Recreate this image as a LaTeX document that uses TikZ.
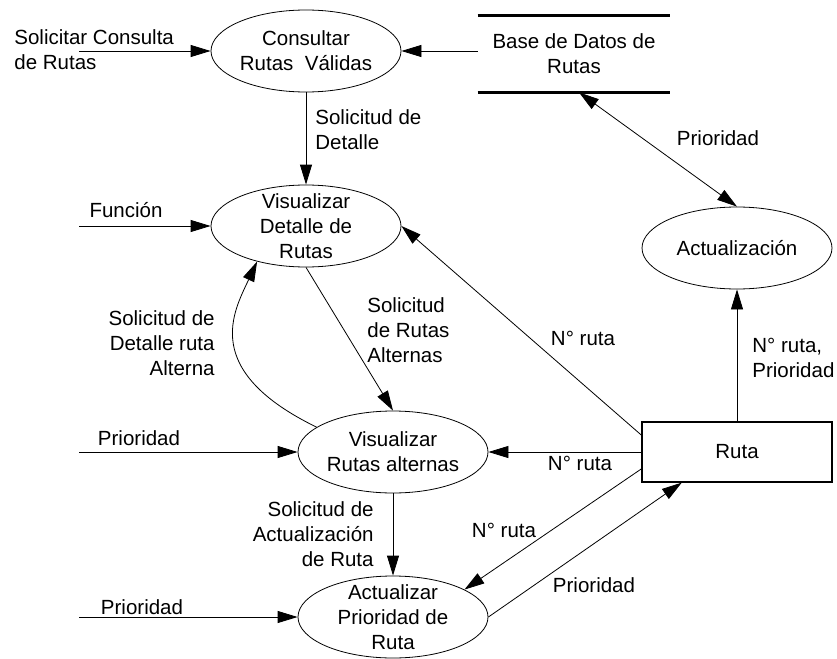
\documentclass[tikz,border=0pt]{standalone}
\usepackage{fontspec}
\setmainfont{Liberation Sans}
\usetikzlibrary{arrows.meta,shapes.geometric}

\begin{document}
\begin{tikzpicture}[x=1pt,y=1pt,->,>={Triangle[length=20pt,width=12pt]},line width=0.8pt,
                    font=\fontsize{20.5}{25}\selectfont,
                    proc/.style={ellipse,draw,minimum width=190pt,minimum height=82pt,
                                 inner sep=-10pt,align=center},
                    lbl/.style={align=left,inner sep=0pt}]

  \useasboundingbox (0,0) rectangle (837,-658);

  % procesos
  \node[proc] (consultar)     at (306,-51)  {Consultar\\Rutas~~Válidas};
  \node[proc] (detalle)       at (306,-226) {Visualizar\\Detalle de\\Rutas};
  \node[proc] (alternas)      at (393,-452) {Visualizar\\Rutas alternas};
  \node[proc] (actualizar)    at (393,-617) {Actualizar\\Prioridad de\\Ruta};
  \node[proc] (actualizacion) at (737,-248) {Actualización};

  % almacen y entidad
  \node[align=center,minimum width=192pt,minimum height=76pt,inner sep=0pt] (base) at (574,-54)
       {Base de Datos de\\Rutas};
  \draw[-,line width=3pt] (base.north west) -- (base.north east)
                          (base.south west) -- (base.south east);
  \node[draw,line width=1.2pt,minimum width=190pt,minimum height=60pt] (ruta) at (737,-452) {Ruta};

  % entradas externas
  \coordinate (srcConsulta) at (79,-51);
  \coordinate (srcFuncion)  at (79,-226);
  \coordinate (srcPrio1)    at (79,-452);
  \coordinate (srcPrio2)    at (79,-617);

  \draw (srcConsulta) -- (consultar.west);
  \draw (base.west |- consultar.east) -- (consultar.east);
  \draw (consultar) -- (detalle);
  \draw (srcFuncion) -- (detalle.west);
  \draw (detalle.south) -- (alternas.north);
  \draw (alternas.162) to[out=154,in=245,out distance=130pt,in distance=55pt] (detalle.216);
  \draw (srcPrio1) -- (alternas.west);
  \draw (alternas) -- (actualizar);
  \draw (srcPrio2) -- (actualizar.west);
  \draw (ruta.west) -- (alternas.east);
  \draw (ruta.170) -- (detalle.east);
  \draw (ruta.190) -- (actualizar.21);
  \draw (actualizar.east) -- (ruta.209);
  \draw (ruta) -- (actualizacion);
  \draw[<->] ([xshift=5pt]base.south) -- (actualizacion.north);

  % etiquetas
  \node[lbl,anchor=west] (lSolConsulta) at (14,-50) {Solicitar Consulta\\de Rutas};
  \node (lFuncion) at (126,-210) {Función};
  \node (lPrio1) at (139,-438) {Prioridad};
  \node (lPrio2) at (142,-607) {Prioridad};
  \node[lbl,anchor=west] (lSolDetalle) at (315,-130) {Solicitud de\\Detalle};
  \node (lPrioBase) at (718,-138) {Prioridad};
  \node[lbl,anchor=west] (lRutaPrio) at (752,-358) {N° ruta,\\Prioridad};
  \node (lRuta1) at (583,-338) {N° ruta};
  \node (lRuta2) at (580,-463) {N° ruta};
  \node (lRuta3) at (504,-530) {N° ruta};
  \node (lPrio3) at (594,-585) {Prioridad};
  \node[lbl,anchor=west] (lSolAlternas) at (367,-330) {Solicitud\\de Rutas\\Alternas};
  \node[lbl,align=right,anchor=east] (lSolDetAlt) at (215,-343) {Solicitud de\\Detalle ruta\\Alterna};
  \node[lbl,align=right,anchor=east] (lSolAct) at (374,-534) {Solicitud de\\Actualización\\de Ruta};

\end{tikzpicture}
\end{document}
